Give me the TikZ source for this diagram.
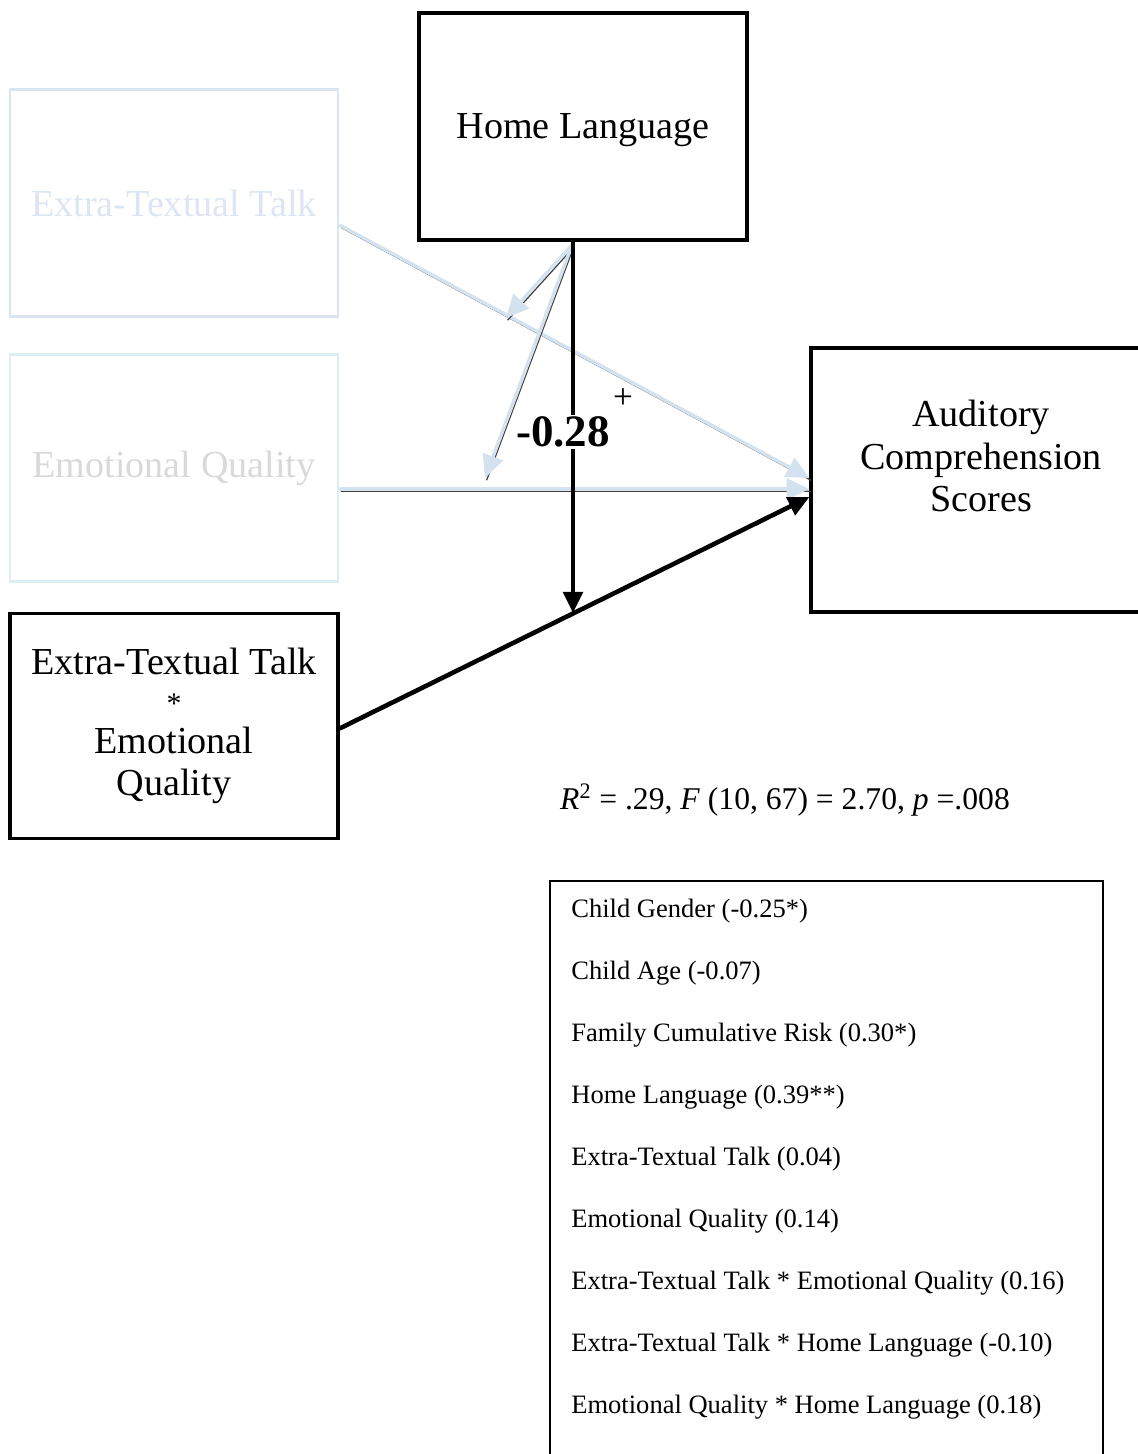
\documentclass[tikz,border=0pt]{standalone}
\usepackage{fontspec}
\setmainfont{Liberation Serif}
\usetikzlibrary{arrows.meta}

\definecolor{fadeblue}{HTML}{DBE5F1}
\definecolor{fadecyan}{HTML}{DAEEF3}
\definecolor{fadetext}{HTML}{DCE6F2}
\definecolor{fadegray}{HTML}{D9D9D9}
\definecolor{linelight}{HTML}{D3E2EE}

\newcommand{\boxfont}{\fontsize{21.7}{24.4}\selectfont}
\newcommand{\covfont}{\fontsize{15.1}{18}\selectfont}

\begin{document}
\begin{tikzpicture}[
    varbox/.style={draw, line width=1.8pt, minimum width=6.56cm, minimum height=4.54cm, align=center, font=\boxfont, inner sep=0pt},
    fadebox/.style={varbox, line width=1.5pt},
    boldpath/.style={line width=2.6pt, -{Triangle[length=12pt,width=11pt]}},
    fadepath/.style={draw=linelight, line width=2pt, -{Triangle[length=13pt,width=12pt]},
      preaction={draw=black!75, line width=0.7pt, -, transform canvas={shift={(0.9pt,-1.3pt)}}}},
    covline/.style={anchor=base west, font=\covfont, inner sep=0pt}
  ]
    \useasboundingbox (0,0) rectangle (22.76,-29.08);
    \clip (0,0) rectangle (22.76,-29.08);

    % boxes
    \node[varbox, text depth=0pt] (home) at (11.66,-2.53) {Home Language};
    \node[fadebox, draw=fadeblue, text=fadetext] (ett) at (3.48,-4.06) {Extra-Textual Talk};
    \node[fadebox, draw=fadecyan, text=fadegray] (eq) at (3.48,-9.36) {Emotional Quality};
    \node[varbox, minimum height=4.5cm] (inter) at (3.48,-14.52) {Extra-Textual Talk\\[-2pt]{\fontsize{17}{17}\selectfont *}\\[-2pt]Emotional\\Quality};
    \node[varbox, minimum width=6.6cm, minimum height=5.28cm] (acs) at (19.52,-9.6) {};
    \node[inner sep=0pt, align=center, font=\boxfont] (acs-text) at (19.62,-9.12) {Auditory\\Comprehension\\Scores};

    \coordinate (mod) at (11.46,-12.26);
    \coordinate (ett-mod) at (10.12,-6.36);
    \coordinate (eq-mod) at (9.70,-9.56);

    % paths
    \draw[fadepath] ([yshift=-0.44cm]ett.east) -- ([yshift=0.04cm]acs.west);
    \draw[fadepath] ([yshift=-0.42cm]eq.east) -- ([yshift=-0.18cm]acs.west);
    \draw[fadepath] ([xshift=-0.22cm,yshift=-0.07cm]home.south) -- (ett-mod);
    \draw[fadepath] ([xshift=-0.22cm,yshift=-0.07cm]home.south) -- (eq-mod);
    \draw[boldpath] ([yshift=-0.05cm]inter.east) -- ([yshift=-0.34cm]acs.west);
    \draw[boldpath] ([xshift=-0.2cm]home.south) -- (mod);

    \node[fill=white, inner sep=1pt, font=\bfseries\fontsize{25.6}{28}\selectfont] (coef) at (11.26,-8.64) {-0.28};
    \node[font=\fontsize{20}{22}\selectfont] (sig) at (12.46,-7.98) {+};

    \node[font=\fontsize{18}{20}\selectfont] (fit) at (15.7,-16.0) {\textit{R}\textsuperscript{2} = .29, \textit{F} (10, 67) = 2.70, \textit{p} =.008};

    % covariates
    \node[draw, line width=0.9pt, minimum width=11.06cm, minimum height=12cm, anchor=north west, inner sep=0pt] (cov) at (10.98,-17.6) {};
    \node[covline] (cov1) at (11.42,-18.34) {Child Gender (-0.25*)};
    \node[covline] (cov2) at (11.42,-19.58) {Child Age (-0.07)};
    \node[covline] (cov3) at (11.42,-20.82) {Family Cumulative Risk (0.30*)};
    \node[covline] (cov4) at (11.42,-22.06) {Home Language (0.39**)};
    \node[covline] (cov5) at (11.42,-23.30) {Extra-Textual Talk (0.04)};
    \node[covline] (cov6) at (11.42,-24.54) {Emotional Quality (0.14)};
    \node[covline] (cov7) at (11.42,-25.78) {Extra-Textual Talk * Emotional Quality (0.16)};
    \node[covline] (cov8) at (11.42,-27.02) {Extra-Textual Talk * Home Language (-0.10)};
    \node[covline] (cov9) at (11.42,-28.26) {Emotional Quality * Home Language (0.18)};
  \end{tikzpicture}
\end{document}
